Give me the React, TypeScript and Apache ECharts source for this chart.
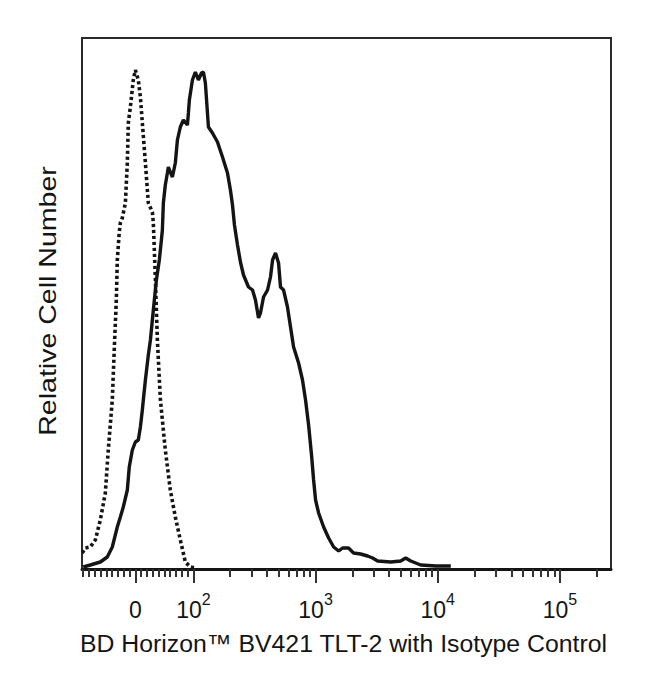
import React, { useEffect, useRef } from "react";
import * as echarts from "echarts";

// Display scale: decades (log10) above 100, linear below 100 (biexponential-like)
const LIN_SLOPE = 0.00475; // decades per unit below 100
const toDisplay = (v: number) => (v >= 100 ? Math.log10(v) : 2 + (v - 100) * LIN_SLOPE);

const X_MIN_VALUE = -92;
const X_MAX_VALUE = 262144;

const MAJOR_TICKS = [0, 100, 1000, 10000, 100000];
const MINOR_TICKS = [
  -90, -80, -70, -60, -50, -40, -30, -20, -10,
  10, 20, 30, 40, 50, 60, 70, 80, 90,
  200, 300, 400, 500, 600, 700, 800, 900,
  2000, 3000, 4000, 5000, 6000, 7000, 8000, 9000,
  20000, 30000, 40000, 50000, 60000, 70000, 80000, 90000,
  200000,
];

// Isotype control (dotted) — x in display decades, y relative count
const ISO_X = [1.09, 1.115, 1.156, 1.197, 1.238, 1.279, 1.303, 1.336, 1.352, 1.369, 1.377, 1.393, 1.402, 1.418, 1.443, 1.459, 1.467, 1.484, 1.508, 1.525, 1.549, 1.566, 1.582, 1.607, 1.631, 1.664, 1.672, 1.689, 1.705, 1.73, 1.77, 1.811, 1.852, 1.893, 1.934, 1.975, 2.016];
const ISO_Y = [3.2, 4.2, 4.4, 5.8, 9.8, 15.2, 23.8, 33.8, 43.8, 53.8, 61.8, 67.4, 69.2, 70.2, 73.2, 81.2, 89.2, 92.4, 97.8, 99.8, 97.8, 94.4, 89.2, 81.2, 73.2, 71.4, 69.2, 57.8, 45.8, 33.8, 23.8, 15.8, 10.4, 5.8, 1.4, 0.4, 0.2];

// BV421 TLT-2 (solid)
const TLT_X = [1.098, 1.156, 1.238, 1.295, 1.336, 1.377, 1.402, 1.426, 1.459, 1.475, 1.5, 1.525, 1.549, 1.566, 1.582, 1.59, 1.607, 1.631, 1.648, 1.672, 1.697, 1.721, 1.738, 1.746, 1.754, 1.77, 1.787, 1.795, 1.811, 1.828, 1.852, 1.869, 1.893, 1.918, 1.951, 1.959, 1.967, 1.992, 2.016, 2.041, 2.066, 2.082, 2.098, 2.115, 2.123, 2.156, 2.197, 2.238, 2.279, 2.303, 2.32, 2.336, 2.361, 2.385, 2.41, 2.451, 2.484, 2.508, 2.533, 2.549, 2.574, 2.607, 2.631, 2.648, 2.672, 2.697, 2.713, 2.738, 2.77, 2.795, 2.82, 2.861, 2.893, 2.918, 2.943, 2.967, 2.984, 3.0, 3.025, 3.066, 3.107, 3.148, 3.189, 3.221, 3.27, 3.311, 3.369, 3.426, 3.467, 3.508, 3.615, 3.697, 3.738, 3.779, 3.82, 3.861, 3.984, 4.107];
const TLT_Y = [0.4, 0.8, 1.4, 2.4, 4.4, 8.4, 10.4, 12.4, 15.8, 20.4, 23.8, 25.4, 25.8, 28.4, 31.8, 33.8, 37.8, 42.8, 45.8, 51.8, 57.8, 61.8, 65.8, 67.8, 73.2, 76.8, 79.2, 80.4, 79.4, 78.4, 81.2, 85.8, 88.4, 89.8, 88.8, 91.2, 93.8, 97.8, 99.4, 97.8, 99.2, 99.4, 97.2, 91.2, 88.4, 87.2, 85.4, 82.4, 79.2, 75.8, 72.8, 68.8, 64.8, 61.4, 58.8, 56.4, 55.8, 53.8, 50.2, 51.2, 54.4, 55.8, 58.4, 61.8, 63.2, 61.2, 56.4, 55.8, 52.4, 48.4, 44.4, 41.2, 37.8, 33.8, 28.8, 22.8, 17.8, 13.8, 11.2, 8.4, 6.2, 4.4, 3.6, 4.2, 4.2, 3.2, 3.0, 2.6, 2.2, 1.6, 1.4, 1.6, 2.2, 1.6, 1.2, 0.8, 0.6, 0.6];

const Y_MAX = 106.2;
const X_TITLE = "BD Horizon™ BV421 TLT-2 with Isotype Control";
const Y_TITLE = "Relative Cell Number";

const FONT = "'Liberation Sans', Arial, Helvetica, sans-serif";
const INK = "#141414";

export default function App() {
  const ref = useRef<HTMLDivElement>(null);
  useEffect(() => {
    if (!ref.current) return;
    const chart = echarts.init(ref.current, undefined, { renderer: "svg" });
    const xMin = toDisplay(X_MIN_VALUE);
    const xMax = toDisplay(X_MAX_VALUE);
    const labelFor = (d: number) => {
      if (d < 1.8) return "{b|0}";
      return `{b|10}{s|${Math.round(d)}}`;
    };
    chart.setOption({
      animation: false,
      backgroundColor: "#ffffff",
      grid: {
        left: 82,
        right: 39,
        top: 38,
        bottom: 119,
        show: true,
        borderColor: "#2a2a2a",
        borderWidth: 2,
        backgroundColor: "transparent",
      },
      xAxis: [
        {
          type: "value",
          min: xMin,
          max: xMax,
          position: "bottom",
          splitLine: { show: false },
          axisLine: { show: true, lineStyle: { color: INK, width: 3 } },
          axisTick: {
            show: true,
            length: 14,
            lineStyle: { color: "#333", width: 2 },
            customValues: MAJOR_TICKS.map(toDisplay),
          },
          axisLabel: {
            show: true,
            margin: 22,
            customValues: MAJOR_TICKS.map(toDisplay),
            formatter: (v: number) => labelFor(v),
            rich: {
              b: { fontSize: 23, color: INK, fontFamily: FONT, lineHeight: 30, verticalAlign: "bottom" },
              s: { fontSize: 16, color: INK, fontFamily: FONT, lineHeight: 30, verticalAlign: "top" },
            },
          },
          name: X_TITLE,
          nameLocation: "middle",
          nameGap: 62,
          nameTextStyle: { fontSize: 24.8, color: INK, fontFamily: FONT, padding: [0, 6, 0, 0] },
        },
        {
          type: "value",
          min: xMin,
          max: xMax,
          position: "bottom",
          splitLine: { show: false },
          axisLine: { show: false },
          axisLabel: { show: false },
          axisTick: {
            show: true,
            length: 8,
            lineStyle: { color: "#333", width: 2 },
            customValues: MINOR_TICKS.map(toDisplay),
          },
        },
      ],
      yAxis: {
        type: "value",
        min: 0,
        max: Y_MAX,
        axisLine: { show: false },
        axisTick: { show: false },
        axisLabel: { show: false },
        splitLine: { show: false },
      },
      graphic: [
        {
          type: "text",
          x: 48,
          y: 301,
          rotation: Math.PI / 2,
          scaleX: 1.19,
          style: {
            text: Y_TITLE,
            fontSize: 24,
            fontFamily: FONT,
            fill: INK,
            align: "center",
            verticalAlign: "middle",
          },
        },
      ],
      series: [
        {
          type: "line",
          name: "Isotype Control",
          xAxisIndex: 0,
          showSymbol: false,
          data: ISO_X.map((x, i) => [x, ISO_Y[i]]),
          lineStyle: { color: INK, width: 3.6, type: [3.2, 2.8] },
          z: 3,
        },
        {
          type: "line",
          name: "TLT-2",
          xAxisIndex: 0,
          showSymbol: false,
          data: TLT_X.map((x, i) => [x, TLT_Y[i]]),
          lineStyle: { color: INK, width: 3.4 },
          z: 4,
        },
      ],
    });
    return () => chart.dispose();
  }, []);
  return (
    <div
      ref={ref}
      style={{ position: "absolute", left: 0, top: 0, width: 650, height: 688 }}
    />
  );
}
